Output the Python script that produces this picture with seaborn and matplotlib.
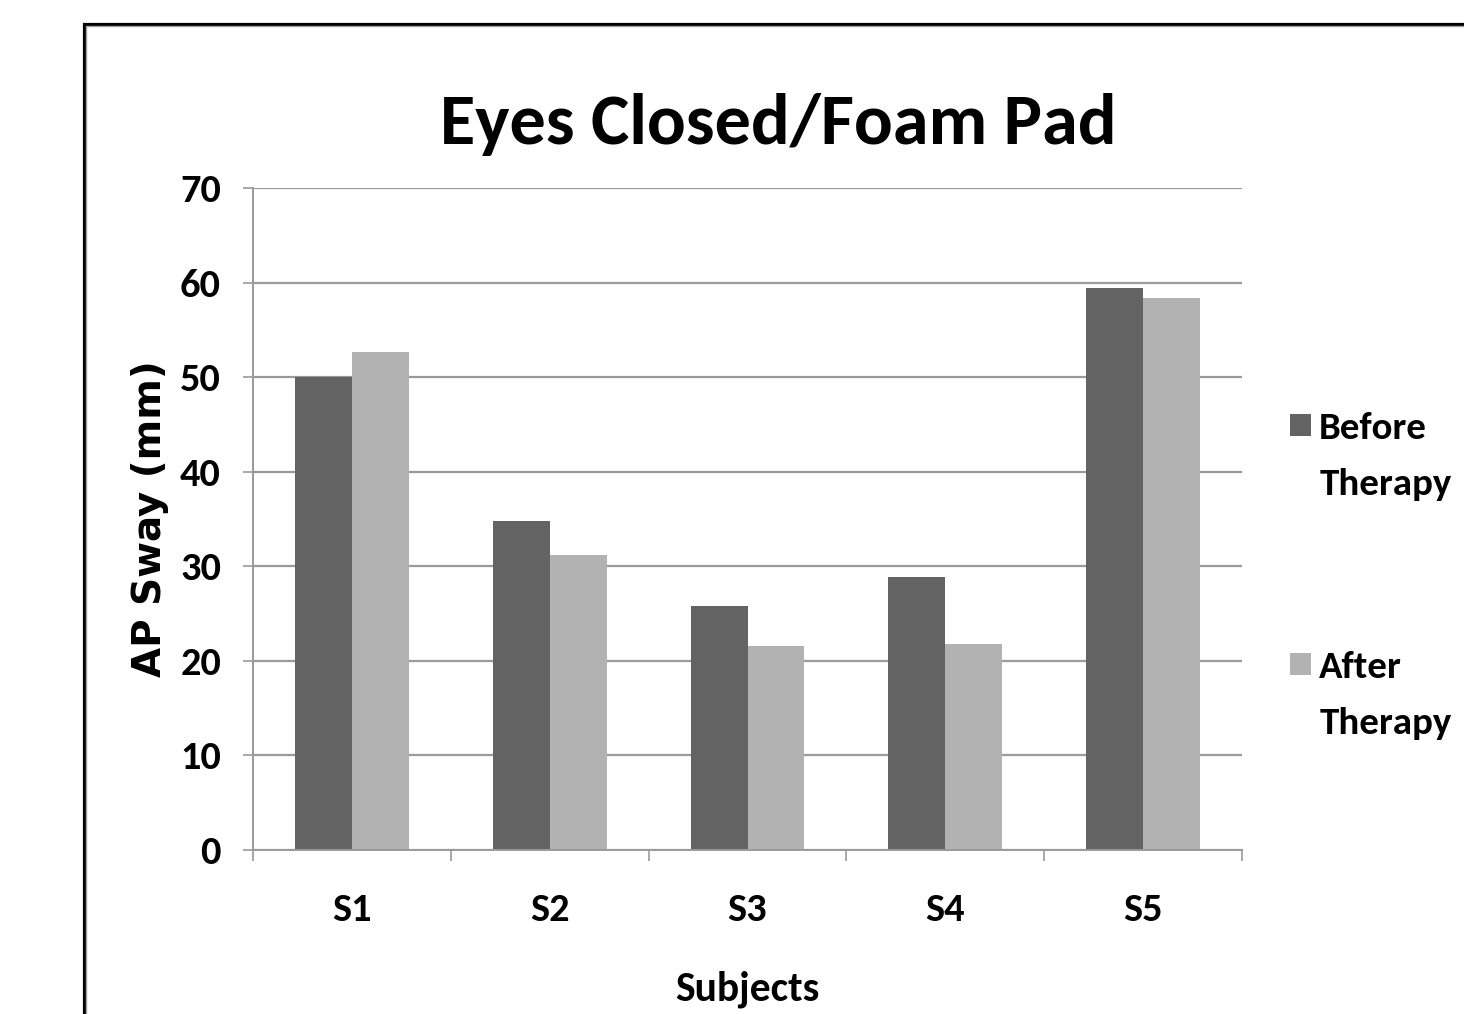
import matplotlib
matplotlib.use("Agg")
import matplotlib.pyplot as plt
import seaborn as sns
import pandas as pd
from matplotlib.patches import Rectangle
from matplotlib.legend_handler import HandlerPatch

# ---- data ----
subjects = ["S1", "S2", "S3", "S4", "S5"]
before = [50.0, 34.8, 25.8, 28.9, 59.4]
after = [52.7, 31.2, 21.6, 21.8, 58.4]
series = ["Before\nTherapy", "After\nTherapy"]
colors = ["#636363", "#B2B2B2"]
yticks = [0, 10, 20, 30, 40, 50, 60, 70]
title = "Eyes Closed/Foam Pad"
xlabel = "Subjects"
ylabel = "AP Sway (mm)"

sns.set_theme(style="white")
plt.rcParams['font.family'] = ['Carlito', 'Open Sans Condensed', 'Liberation Sans', 'DejaVu Sans']

df = pd.DataFrame({
    "Subject": subjects * 2,
    "Value": before + after,
    "Condition": [series[0]] * len(subjects) + [series[1]] * len(subjects),
})

GRID = "#9a9a9a"
fig = plt.figure(figsize=(14.64, 10.14), dpi=100)
ax = fig.add_axes([253 / 1464, 1 - 850 / 1014, (1242 - 253) / 1464, (850 - 188) / 1014])

sns.barplot(data=df, x="Subject", y="Value", hue="Condition", hue_order=series,
            palette=colors, width=0.576, ax=ax, legend=False, errorbar=None,
            saturation=1, linewidth=0)

ax.set_ylim(0, 70)
ax.set_xlim(-0.5, len(subjects) - 0.5)
ax.set_yticks(yticks)
ax.yaxis.grid(True, color=GRID, lw=1.6)
ax.xaxis.grid(False)
ax.set_axisbelow(True)
for s in ["top", "right"]:
    ax.spines[s].set_visible(False)
for s in ["left", "bottom"]:
    ax.spines[s].set_color(GRID)
    ax.spines[s].set_linewidth(1.4)

ax.tick_params(axis='y', left=True, length=7, width=1.2, color=GRID, pad=16, labelsize=29)
ax.set_xticks([i - 0.5 for i in range(len(subjects) + 1)], minor=True)
ax.tick_params(axis='x', which='major', length=0, pad=31, labelsize=29)
ax.tick_params(axis='x', which='minor', bottom=True, length=8, width=1.2, color=GRID)
for lab in ax.get_xticklabels() + ax.get_yticklabels():
    lab.set_fontweight('bold')
    lab.set_color('black')

ax.set_title(title, fontsize=52, fontweight='bold', color='black',
             x=(778 - 253) / (1242 - 253), pad=32)
ax.set_xlabel(xlabel, fontsize=30, fontweight='bold', color='black', labelpad=31)
ax.set_ylabel(ylabel, fontsize=28, fontweight='bold', color='black',
              family=['DejaVu Sans'], labelpad=8)


def make_sq(legend, orig_handle, xdescent, ydescent, width, height, fontsize):
    sq = width
    return Rectangle((-xdescent, -ydescent + height - sq), sq, sq)


handles = [Rectangle((0, 0), 1, 1, facecolor=c, edgecolor='none') for c in colors]
leg = ax.legend(handles, series, loc='upper left',
                bbox_to_anchor=(1290 / 1464, 1 - 412 / 1014), bbox_transform=fig.transFigure,
                frameon=False, prop={'weight': 'bold', 'size': 28},
                handlelength=0.55, handleheight=3.15, handletextpad=0.2,
                labelspacing=3.8, borderpad=0, borderaxespad=0,
                handler_map={Rectangle: HandlerPatch(patch_func=make_sq)})
for t in leg.get_texts():
    t.set_linespacing(1.85)
    t.set_color('black')

# outer frame (cropped chart border)
fig.add_artist(Rectangle((83.5 / 1464, -0.2), 2, 1 - 23.5 / 1014 + 0.2, transform=fig.transFigure,
                         fill=False, edgecolor='black', lw=2.3))
fig.add_artist(Rectangle((86 / 1464, -0.2), 2, 1 - 26 / 1014 + 0.2, transform=fig.transFigure,
                         fill=False, edgecolor='#a0a0a0', lw=1.0))

fig.savefig("out.png", dpi=100)
